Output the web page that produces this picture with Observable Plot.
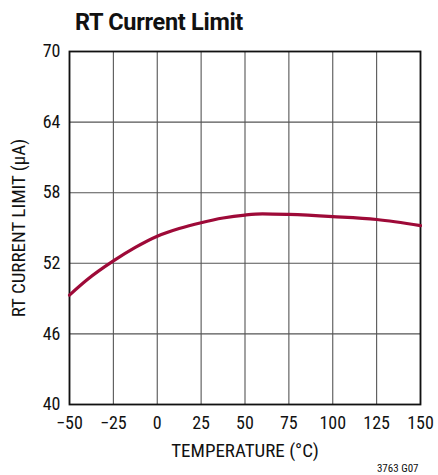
<!DOCTYPE html>
<html>
<head>
<meta charset="utf-8">
<script src="https://cdn.jsdelivr.net/npm/d3@7"></script>
<script src="https://cdn.jsdelivr.net/npm/@observablehq/plot@0.6"></script>
<style>
  body { margin: 0; background: #fff; }
  #wrap { position: relative; width: 438px; height: 475px; font-family: Roboto, "Liberation Sans", Arial, sans-serif; font-stretch: condensed; }
  #wrap svg { font-family: Roboto, "Liberation Sans", Arial, sans-serif; font-stretch: condensed; }
  #title { position: absolute; left: 75px; top: 9px; font-size: 23.5px; line-height: 26px; font-weight: bold; font-stretch: normal; letter-spacing: -0.3px; color: #111; }
</style>
</head>
<body>
<div id="wrap"><div id="title">RT Current Limit</div></div>
<script>
const temperature = [-50, -40, -25, -12.5, 0, 12.5, 25, 37.5, 50, 60, 75, 100, 125, 150];
const currentLimit = [49.3, 50.6, 52.2, 53.35, 54.3, 54.95, 55.45, 55.85, 56.1, 56.2, 56.15, 55.97, 55.72, 55.2];
const xTicks = [-50, -25, 0, 25, 50, 75, 100, 125, 150];
const yTicks = [40, 46, 52, 58, 64, 70];
const xLabel = "TEMPERATURE (°C)";
const yLabel = "RT CURRENT LIMIT (µA)";
const note = "3763 G07";

const data = temperature.map((t, i) => ({t, v: currentLimit[i]}));
const fmtX = d => d < 0 ? "\u2212" + Math.abs(d) : String(d);

const chart = Plot.plot({
  width: 438,
  height: 475,
  marginLeft: 69,
  marginRight: 18,
  marginTop: 51,
  marginBottom: 71,
  style: {color: "#111", background: "#fff"},
  x: {domain: [-50, 150]},
  y: {domain: [40, 70]},
  marks: [
    Plot.ruleX(xTicks, {stroke: "#555", strokeWidth: 1.1}),
    Plot.ruleY(yTicks, {stroke: "#555", strokeWidth: 1.1}),
    Plot.axisX({ticks: xTicks, tickSize: 0, tickPadding: 12, fontSize: 18, tickFormat: fmtX, label: null}),
    Plot.axisY({ticks: yTicks, tickSize: 0, tickPadding: 9, fontSize: 18, label: null}),
    Plot.axisY({ticks: [], tickSize: 0, fontSize: 19, label: yLabel, labelAnchor: "center", labelOffset: 58, labelArrow: "none"}),
    Plot.frame({stroke: "#111", strokeWidth: 1.8}),
    Plot.line(data, {x: "t", y: "v", stroke: "#9e0a38", strokeWidth: 3.2, curve: "monotone-x"}),
    Plot.text([xLabel], {frameAnchor: "bottom", dy: 46, text: d => d, fontSize: 19, lineAnchor: "middle", fill: "#111"}),
    Plot.text([note], {frameAnchor: "bottom-right", dy: 64, dx: -2, text: d => d, fontSize: 11, lineAnchor: "middle", fill: "#111"})
  ]
});
document.getElementById("wrap").appendChild(chart);
</script>
</body>
</html>
